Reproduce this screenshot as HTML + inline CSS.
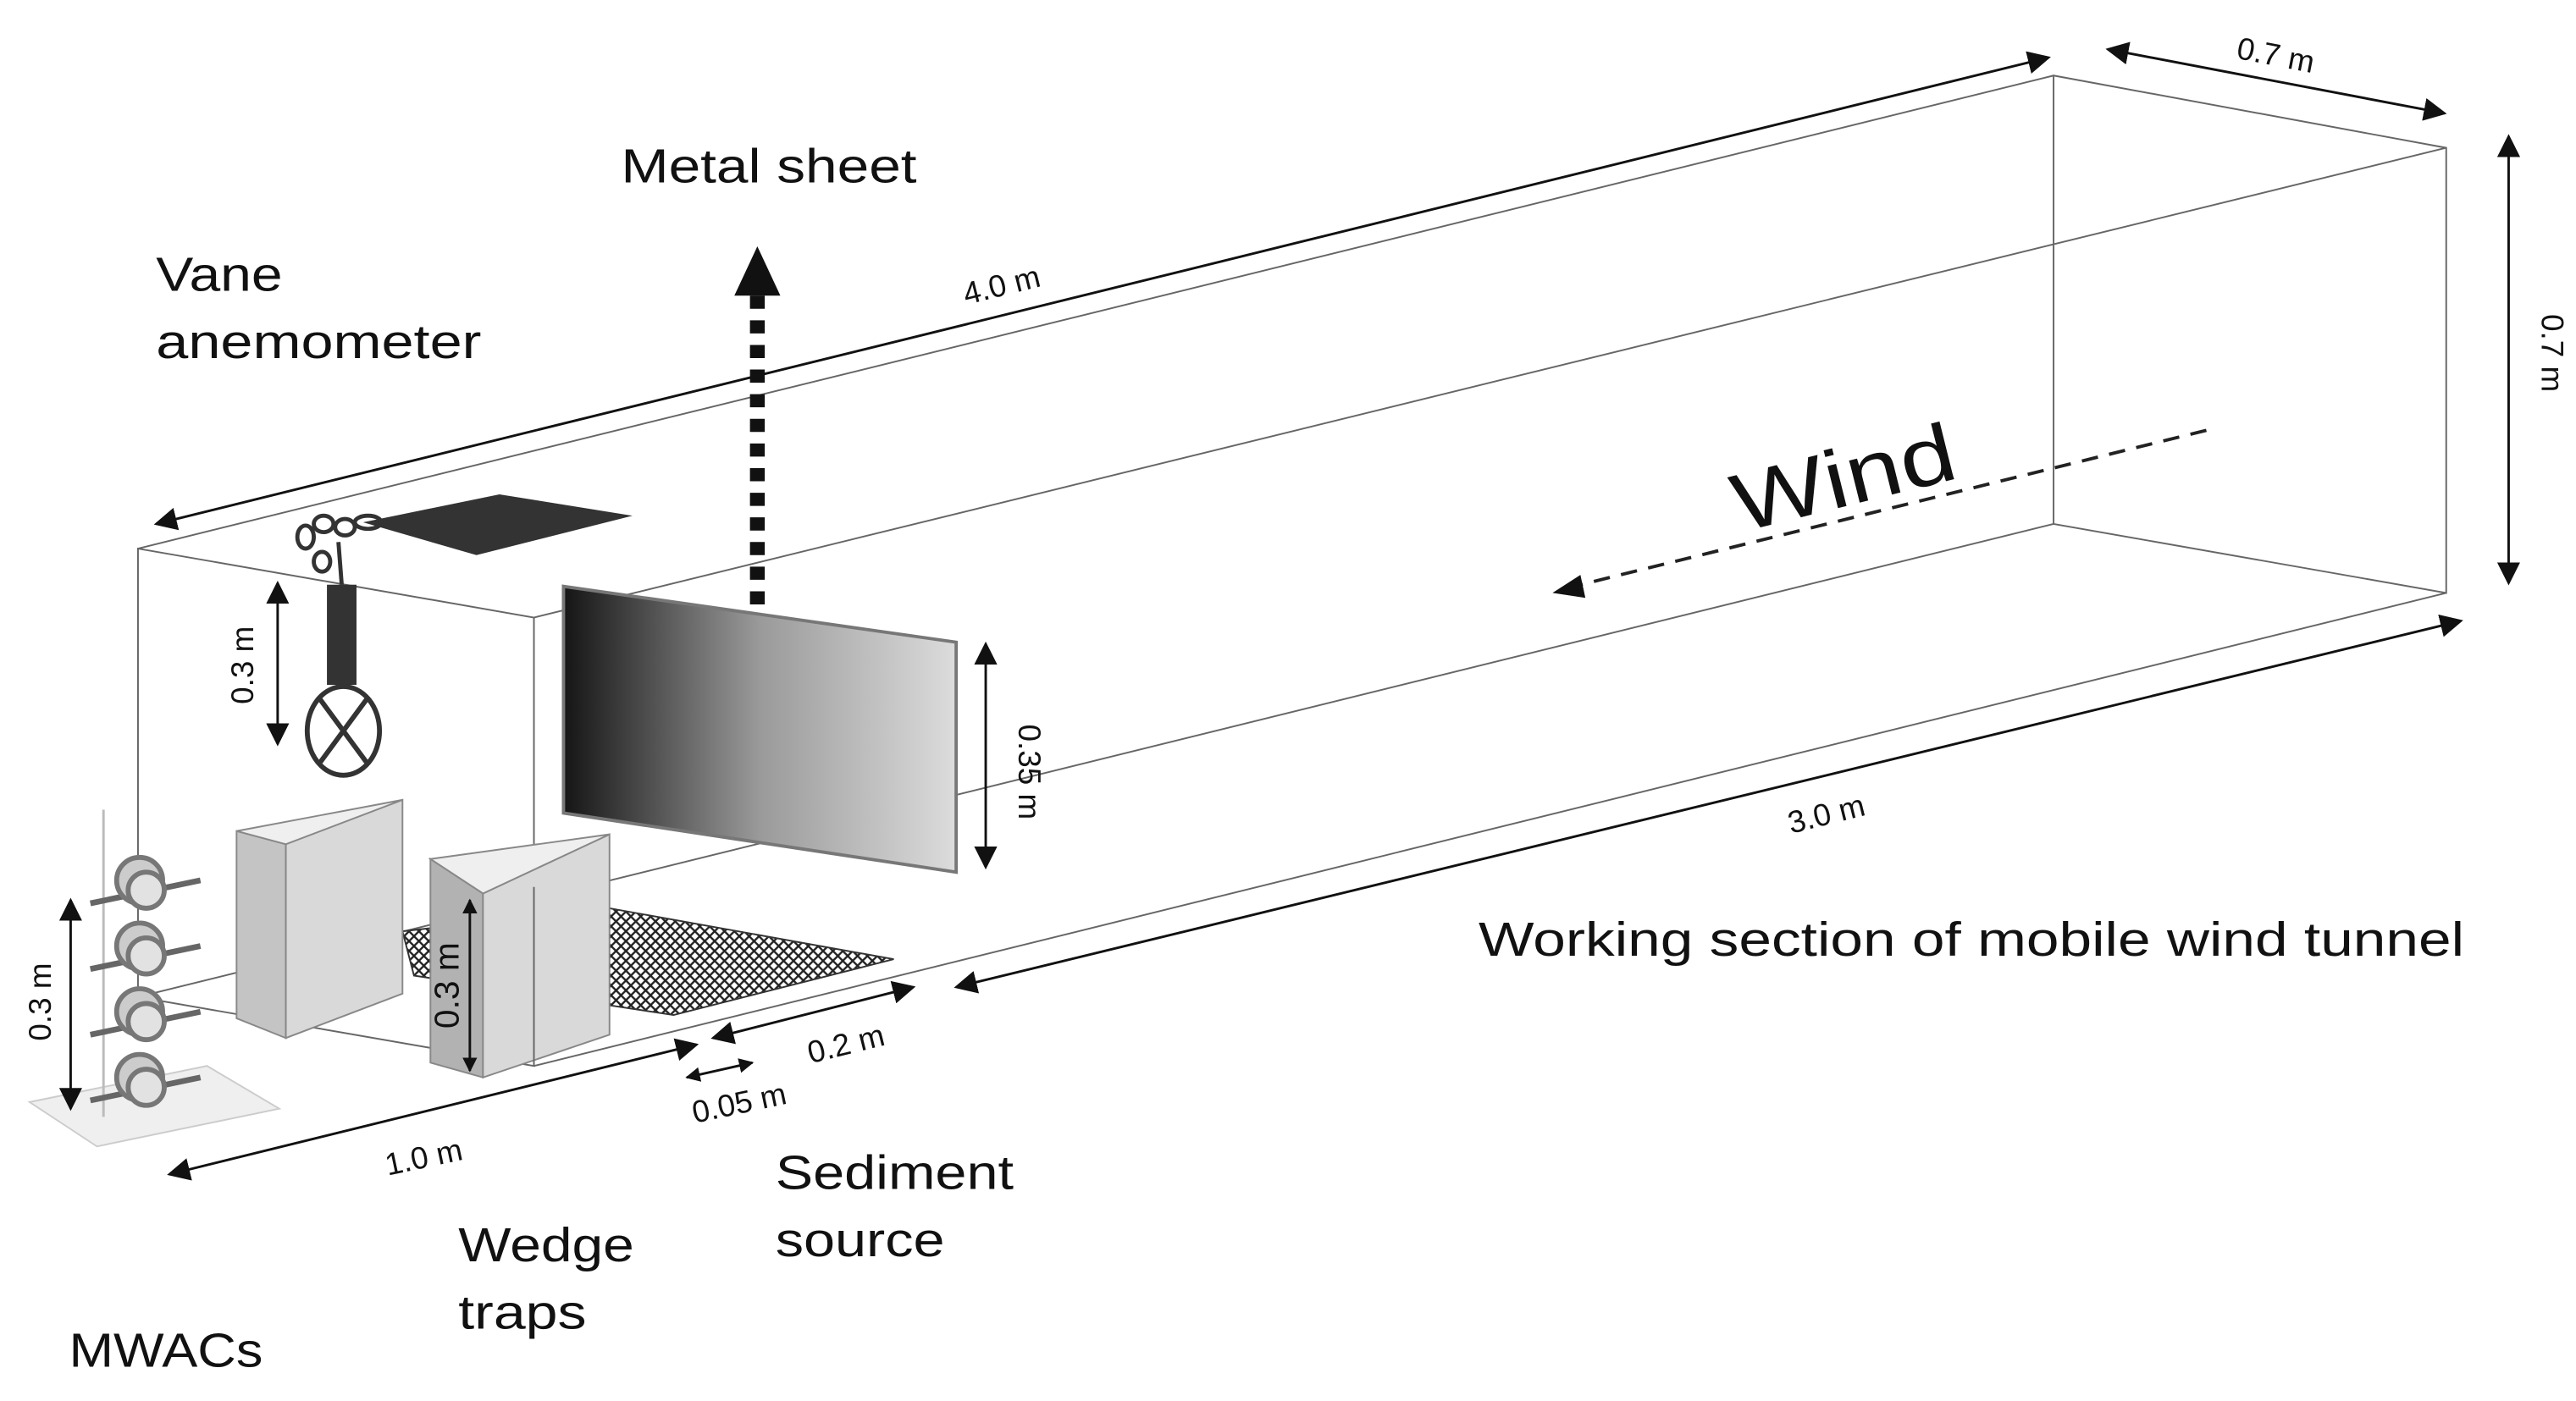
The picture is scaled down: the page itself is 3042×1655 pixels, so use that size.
<!DOCTYPE html>
<html><head><meta charset="utf-8"><style>
html,body{margin:0;padding:0;background:#fff;}
svg{display:block;}
text{font-family:"Liberation Sans",sans-serif;fill:#111;}
</style></head><body>
<svg width="3042" height="1655" viewBox="0 0 1568 853" preserveAspectRatio="none" xmlns="http://www.w3.org/2000/svg">
<defs>
<marker id="ah" viewBox="0 0 10 10" refX="9" refY="5" markerWidth="9" markerHeight="9" orient="auto-start-reverse" markerUnits="userSpaceOnUse"><path d="M0,0 L10,5 L0,10 z" fill="#111"/></marker>
<marker id="ahb" viewBox="0 0 10 10" refX="9" refY="5" markerWidth="14" markerHeight="14" orient="auto-start-reverse" markerUnits="userSpaceOnUse"><path d="M0,0 L10,5 L0,10 z" fill="#111"/></marker>
<linearGradient id="sheet" x1="0" y1="0" x2="1" y2="0"><stop offset="0" stop-color="#151515"/><stop offset="0.5" stop-color="#9a9a9a"/><stop offset="1" stop-color="#dcdcdc"/></linearGradient>
<pattern id="mesh" width="6" height="6" patternUnits="userSpaceOnUse"><rect width="6" height="6" fill="#fff"/><path d="M0,0 L6,6 M6,0 L0,6" stroke="#222" stroke-width="1.2"/></pattern>
</defs>

<g stroke="#666" stroke-width="1" fill="none">
<polygon points="1250,46 1489,90 1489,361 1250,319"/>
<line x1="84" y1="334" x2="1250" y2="46"/>
<line x1="325" y1="376" x2="1489" y2="90"/>
<line x1="325" y1="649" x2="1489" y2="361"/>
<line x1="84" y1="607" x2="1250" y2="319"/>
<polygon points="84,334 325,376 325,649 84,607"/>
</g>

<g stroke="#111" stroke-width="1.5" fill="none">
<line x1="95" y1="319" x2="1247" y2="35" marker-start="url(#ahb)" marker-end="url(#ahb)"/>
<line x1="1283" y1="30" x2="1488" y2="69" marker-start="url(#ahb)" marker-end="url(#ahb)"/>
<line x1="1527" y1="83" x2="1527" y2="355" marker-start="url(#ahb)" marker-end="url(#ahb)"/>
<line x1="582" y1="601" x2="1498" y2="378" marker-start="url(#ahb)" marker-end="url(#ahb)"/>
<line x1="103" y1="715" x2="424" y2="636" marker-start="url(#ahb)" marker-end="url(#ahb)"/>
<line x1="434" y1="632" x2="556" y2="601" marker-start="url(#ahb)" marker-end="url(#ahb)"/>
<line x1="418" y1="656" x2="458" y2="647" marker-start="url(#ah)" marker-end="url(#ah)"/>
<line x1="600" y1="392" x2="600" y2="528" marker-start="url(#ahb)" marker-end="url(#ahb)"/>
<line x1="169" y1="355" x2="169" y2="453" marker-start="url(#ahb)" marker-end="url(#ahb)"/>
</g>

<polygon points="245,567 371,553 544,584 410,618 252,594" fill="url(#mesh)" stroke="#333" stroke-width="1"/>

<polygon points="343,357 582,391 582,531 343,495" fill="url(#sheet)" stroke="#777" stroke-width="2"/>

<line x1="461" y1="368" x2="461" y2="180" stroke="#111" stroke-width="9" stroke-dasharray="8,7"/>
<polygon points="447,180 475,180 461,150" fill="#111"/>

<polygon points="221,318 304,301 385,314 290,338" fill="#333"/>
<g fill="none" stroke="#333" stroke-width="2.5">
<ellipse cx="186" cy="327" rx="5" ry="7"/>
<ellipse cx="197" cy="319" rx="6" ry="5"/>
<ellipse cx="210" cy="321" rx="6" ry="5"/>
<ellipse cx="224" cy="318" rx="8" ry="4"/>
<ellipse cx="196" cy="342" rx="5" ry="6"/>
<path d="M206,330 L208,356"/>
</g>
<rect x="199" y="356" width="18" height="61" fill="#333"/>
<ellipse cx="209" cy="445" rx="22" ry="27" fill="#fff" stroke="#333" stroke-width="3"/>
<path d="M195,426 L223,464 M223,426 L195,464" stroke="#333" stroke-width="3"/>

<polygon points="144,506 174,514 174,632 144,620" fill="#c4c4c4" stroke="#888"/>
<polygon points="174,514 245,487 245,605 174,632" fill="#d9d9d9" stroke="#888"/>
<polygon points="144,506 245,487 174,514" fill="#efefef" stroke="#888"/>

<polygon points="262,523 294,544 294,656 262,647" fill="#b2b2b2" stroke="#888"/>
<polygon points="294,544 371,508 371,630 294,656" fill="#d9d9d9" stroke="#888"/>
<polygon points="262,523 371,508 294,544" fill="#efefef" stroke="#888"/>
<line x1="286" y1="548" x2="286" y2="652" stroke="#111" stroke-width="1.5" marker-start="url(#ah)" marker-end="url(#ah)"/>
<line x1="325" y1="540" x2="325" y2="649" stroke="#666" stroke-width="1"/>

<polygon points="18,671 126,649 170,675 59,698" fill="#efefef" stroke="#ccc"/>
<line x1="63" y1="493" x2="63" y2="680" stroke="#bbb" stroke-width="1.5"/>
<g stroke="#666" stroke-width="3.5" fill="#ddd">
<line x1="55" y1="550" x2="122" y2="536"/>
<line x1="55" y1="590" x2="122" y2="576"/>
<line x1="55" y1="630" x2="122" y2="616"/>
<line x1="55" y1="670" x2="122" y2="656"/>
</g>
<g stroke="#777" stroke-width="3">
<circle cx="85" cy="536" r="14" fill="#ccc"/><circle cx="89" cy="542" r="11" fill="#e2e2e2"/>
<circle cx="85" cy="576" r="14" fill="#ccc"/><circle cx="89" cy="582" r="11" fill="#e2e2e2"/>
<circle cx="85" cy="616" r="14" fill="#ccc"/><circle cx="89" cy="622" r="11" fill="#e2e2e2"/>
<circle cx="85" cy="656" r="14" fill="#ccc"/><circle cx="89" cy="662" r="11" fill="#e2e2e2"/>
</g>
<line x1="43" y1="548" x2="43" y2="675" stroke="#111" stroke-width="1.5" marker-start="url(#ahb)" marker-end="url(#ahb)"/>

<line x1="1343" y1="262" x2="958" y2="357" stroke="#222" stroke-width="2" stroke-dasharray="10,7"/>
<polygon points="945,361 962,350 965,364" fill="#111"/>
<text x="1122" y="308" font-size="50" text-anchor="middle" textLength="138" lengthAdjust="spacingAndGlyphs" transform="rotate(-14 1122 290)">Wind</text>

<g font-size="19">
<text x="610" y="180" text-anchor="middle" transform="rotate(-14 610 175)">4.0  m</text>
<text x="1385" y="40" text-anchor="middle" transform="rotate(11 1385 35)">0.7 m</text>
<text x="1547" y="215" text-anchor="middle" transform="rotate(90 1547 215)">0.7 m</text>
<text x="1112" y="502" text-anchor="middle" transform="rotate(-14 1112 497)">3.0  m</text>
<text x="258" y="711" text-anchor="middle" transform="rotate(-12 258 705)">1.0 m</text>
<text x="515" y="642" text-anchor="middle" transform="rotate(-14 515 636)">0.2 m</text>
<text x="450" y="678" text-anchor="middle" transform="rotate(-12 450 672)">0.05 m</text>
<text x="620" y="470" text-anchor="middle" transform="rotate(90 620 470)">0.35 m</text>
<text x="148" y="411" text-anchor="middle" transform="rotate(-90 148 405)">0.3 m</text>
<text x="25" y="616" text-anchor="middle" transform="rotate(-90 25 610)">0.3 m</text>
</g>
<text x="272" y="607" font-size="21" text-anchor="middle" transform="rotate(-90 272 600)">0.3 m</text>

<g font-size="29">
<text x="378" y="111" textLength="180" lengthAdjust="spacingAndGlyphs">Metal sheet</text>
<text x="95" y="177" textLength="77" lengthAdjust="spacingAndGlyphs">Vane</text>
<text x="95" y="218" textLength="198" lengthAdjust="spacingAndGlyphs">anemometer</text>
<text x="900" y="582" textLength="600" lengthAdjust="spacingAndGlyphs">Working section of mobile wind tunnel</text>
<text x="472" y="724" textLength="145" lengthAdjust="spacingAndGlyphs">Sediment</text>
<text x="472" y="765" textLength="103" lengthAdjust="spacingAndGlyphs">source</text>
<text x="279" y="768" textLength="107" lengthAdjust="spacingAndGlyphs">Wedge</text>
<text x="279" y="809" textLength="78" lengthAdjust="spacingAndGlyphs">traps</text>
<text x="42" y="832" textLength="118" lengthAdjust="spacingAndGlyphs">MWACs</text>
</g>
</svg>
</body></html>
